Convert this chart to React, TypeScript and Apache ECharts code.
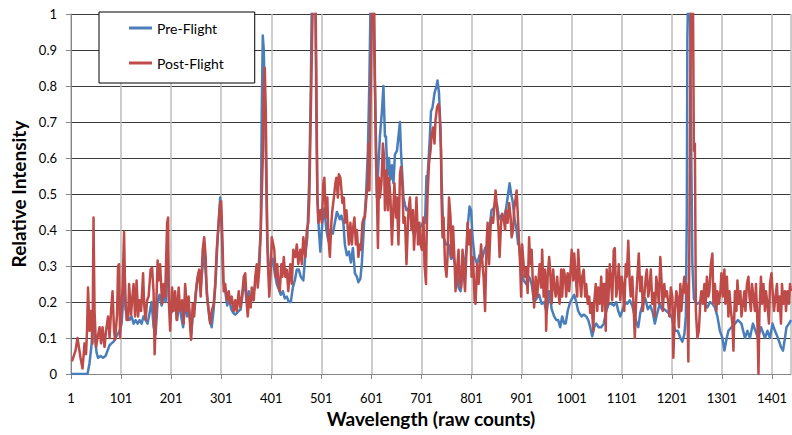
import React, { useEffect, useRef } from "react";
import * as echarts from "echarts";

// [raw count, relative intensity]
const preFlight: [number, number][] = [
  [1, 0], [20, 0], [34, 0], [38, 0.03], [42, 0.08], [46, 0.19], [49, 0.1], [52, 0.06], [55, 0.045], [60, 0.05],
  [65, 0.045], [70, 0.05], [74, 0.065], [78, 0.08], [82, 0.085], [86, 0.09], [90, 0.1], [94, 0.11], [98, 0.12],
  [102, 0.14], [106, 0.22], [108, 0.3], [110, 0.18], [114, 0.16], [118, 0.15], [122, 0.16], [126, 0.14], [130, 0.15],
  [134, 0.14], [138, 0.15], [142, 0.14], [146, 0.16], [150, 0.15], [154, 0.14], [158, 0.17], [162, 0.2], [166, 0.13],
  [170, 0.11], [174, 0.2], [178, 0.22],
  [182, 0.19], [186, 0.22], [190, 0.2], [194, 0.36], [197, 0.2], [201, 0.17], [205, 0.18], [209, 0.21], [213, 0.15],
  [217, 0.2], [221, 0.16], [225, 0.13], [229, 0.2], [233, 0.16], [237, 0.18], [241, 0.11], [245, 0.17], [249, 0.2],
  [253, 0.26], [256, 0.28], [260, 0.24], [264, 0.3], [267, 0.34], [270, 0.28], [274, 0.2], [278, 0.15], [282, 0.13],
  [286, 0.18], [290, 0.26], [294, 0.38], [297, 0.45], [299, 0.49], [302, 0.4], [305, 0.26], [309, 0.23], [313, 0.19],
  [317, 0.21], [321, 0.18], [325, 0.17], [329, 0.165], [333, 0.17], [336, 0.175], [340, 0.18], [344, 0.23], [348, 0.25],
  [352, 0.2], [356, 0.23], [360, 0.2],
  [364, 0.22], [368, 0.24], [372, 0.28], [376, 0.3], [380, 0.4], [382, 0.73], [384, 0.94], [386, 0.9], [388, 0.78],
  [390, 0.62], [393, 0.36], [396, 0.305], [400, 0.3], [404, 0.32], [408, 0.28], [412, 0.25], [416, 0.235], [420, 0.22],
  [424, 0.23], [428, 0.21], [432, 0.215], [436, 0.2], [440, 0.2], [444, 0.24], [448, 0.26], [452, 0.29], [456, 0.29],
  [460, 0.27], [465, 0.26], [469, 0.33], [473, 0.38], [477, 0.55], [480, 0.8], [482, 1.05], [486, 1.1], [489, 1.05],
  [491, 0.72], [493, 0.5], [496, 0.4], [499, 0.34], [503, 0.42], [507, 0.46], [511, 0.4], [515, 0.37], [519, 0.4],
  [524, 0.39], [528, 0.42], [532, 0.45], [535, 0.44], [538, 0.43],
  [541, 0.44], [545, 0.42], [548, 0.36], [552, 0.33], [556, 0.34], [560, 0.31], [564, 0.35], [568, 0.28], [572, 0.27],
  [575, 0.255], [579, 0.265], [582, 0.31], [586, 0.41], [590, 0.49], [594, 0.62], [597, 0.82], [600, 1.1], [604, 1.1],
  [607, 0.87], [610, 0.66], [612, 0.49], [615, 0.58], [618, 0.66], [622, 0.73], [625, 0.8], [628, 0.66], [630, 0.66],
  [633, 0.55], [636, 0.6], [639, 0.54], [642, 0.58], [645, 0.53], [648, 0.61], [652, 0.62], [655, 0.66], [658, 0.7],
  [660, 0.62], [663, 0.545], [665, 0.49], [668, 0.47], [671, 0.455], [675, 0.46], [680, 0.43], [685, 0.39], [690, 0.4],
  [695, 0.4], [700, 0.41], [704, 0.42], [708, 0.42], [711, 0.55], [713, 0.545],
  [717, 0.64], [720, 0.73], [723, 0.74], [727, 0.78], [731, 0.8], [733, 0.815], [736, 0.78], [739, 0.68], [741, 0.545],
  [745, 0.38], [750, 0.36], [755, 0.36], [760, 0.32], [764, 0.33], [768, 0.305], [772, 0.28], [775, 0.24], [779, 0.23],
  [783, 0.28], [787, 0.31], [791, 0.345], [794, 0.42], [797, 0.465], [800, 0.455], [803, 0.38], [807, 0.325],
  [812, 0.305], [817, 0.33], [823, 0.325], [828, 0.35], [834, 0.36], [838, 0.42], [841, 0.455], [845, 0.46], [849, 0.48],
  [852, 0.47], [856, 0.43], [860, 0.44], [865, 0.43], [870, 0.46], [874, 0.5], [877, 0.53], [880, 0.5], [883, 0.48],
  [887, 0.43], [891, 0.4], [894, 0.36],
  [895, 0.37], [900, 0.3], [905, 0.26], [910, 0.25], [916, 0.27], [921, 0.25], [926, 0.2], [931, 0.21], [936, 0.22],
  [941, 0.195], [946, 0.2], [951, 0.17], [956, 0.23], [961, 0.18], [966, 0.16], [970, 0.15], [974, 0.15], [978, 0.13],
  [982, 0.16], [986, 0.14], [989, 0.14], [993, 0.175], [998, 0.2], [1002, 0.21], [1006, 0.22], [1010, 0.2],
  [1014, 0.175], [1018, 0.165], [1021, 0.16], [1025, 0.165], [1030, 0.16], [1034, 0.15], [1038, 0.13], [1042, 0.105],
  [1046, 0.13], [1050, 0.14], [1055, 0.13], [1060, 0.13], [1065, 0.14], [1070, 0.175], [1075, 0.195],
  [1080, 0.195], [1085, 0.19], [1090, 0.2], [1094, 0.175], [1098, 0.16], [1103, 0.18], [1108, 0.2], [1112, 0.195],
  [1117, 0.205], [1122, 0.19], [1127, 0.16], [1131, 0.14], [1134, 0.13], [1138, 0.17], [1143, 0.195], [1148, 0.21],
  [1153, 0.18], [1158, 0.19], [1163, 0.17], [1167, 0.14], [1172, 0.17], [1177, 0.195], [1181, 0.18], [1186, 0.18],
  [1190, 0.175], [1194, 0.17], [1200, 0.16], [1204, 0.14], [1208, 0.12], [1213, 0.12], [1218, 0.1], [1222, 0.09],
  [1226, 0.11], [1229, 0.16], [1231, 0.45], [1232, 0.93], [1234, 1.1], [1237, 1.1], [1239, 0.73], [1242, 0.305],
  [1245, 0.21], [1248, 0.2],
  [1252, 0.195], [1257, 0.2], [1262, 0.21], [1267, 0.195], [1272, 0.185], [1277, 0.2], [1282, 0.195], [1287, 0.185],
  [1292, 0.16], [1297, 0.12], [1302, 0.1], [1306, 0.065], [1310, 0.095], [1314, 0.12], [1320, 0.13], [1327, 0.14],
  [1333, 0.15], [1340, 0.14], [1347, 0.1], [1352, 0.12], [1357, 0.1], [1363, 0.14], [1368, 0.12], [1373, 0.1],
  [1379, 0.13], [1387, 0.1], [1392, 0.12], [1397, 0.1], [1402, 0.14], [1407, 0.12], [1413, 0.1], [1419, 0.075],
  [1423, 0.065], [1427, 0.1], [1430, 0.13], [1435, 0.14], [1439, 0.15],
];

const postFlight: [number, number][] = [
  [3, 0.035], [10, 0.065], [14, 0.1], [20, 0.045], [24, 0.015], [28, 0.085], [31, 0.055], [33, 0.12], [35, 0.24],
  [38, 0.12], [41, 0.175], [44, 0.085], [46, 0.435], [48, 0.175], [51, 0.075], [54, 0.1], [58, 0.13], [61, 0.085],
  [64, 0.13], [68, 0.075], [71, 0.12], [75, 0.16], [78, 0.1], [81, 0.175], [84, 0.23], [87, 0.12], [89, 0.095],
  [93, 0.165], [95, 0.3], [97, 0.305], [99, 0.1], [101, 0.16], [104, 0.24], [107, 0.395], [109, 0.225], [112, 0.15],
  [115, 0.15], [117, 0.25], [121, 0.165], [123, 0.205], [126, 0.25], [129, 0.16], [132, 0.26], [135, 0.16],
  [138, 0.205], [141, 0.175], [145, 0.28], [147, 0.195], [150, 0.15], [153, 0.205], [156, 0.215], [160, 0.29],
  [163, 0.295], [166, 0.225], [168, 0.055], [171, 0.175], [174, 0.315], [176, 0.26], [179, 0.305],
  [183, 0.195], [186, 0.25], [189, 0.215], [193, 0.42], [195, 0.435], [196, 0.215], [199, 0.12], [203, 0.24],
  [206, 0.175], [209, 0.23], [212, 0.15], [216, 0.24], [219, 0.175], [223, 0.205], [226, 0.14], [229, 0.25],
  [233, 0.175], [236, 0.215], [239, 0.13], [241, 0.095], [244, 0.195], [247, 0.16], [250, 0.225], [254, 0.27],
  [257, 0.29], [260, 0.215], [264, 0.345], [267, 0.38], [270, 0.325], [272, 0.225], [276, 0.175], [279, 0.14],
  [282, 0.175], [286, 0.195], [289, 0.25], [292, 0.345], [296, 0.42], [299, 0.475], [301, 0.48], [304, 0.345],
  [306, 0.23], [309, 0.25], [312, 0.205], [316, 0.23], [319, 0.195], [322, 0.215], [326, 0.175], [329, 0.205],
  [332, 0.175], [336, 0.23], [339, 0.185], [342, 0.205], [346, 0.27], [349, 0.28],
  [352, 0.195], [354, 0.16], [357, 0.215], [360, 0.185], [362, 0.24], [366, 0.205], [369, 0.27], [372, 0.305],
  [374, 0.24], [377, 0.29], [380, 0.4], [384, 0.595], [386, 0.78], [388, 0.85], [390, 0.73], [392, 0.49],
  [394, 0.315], [397, 0.215], [400, 0.29], [402, 0.38], [405, 0.36], [407, 0.345], [410, 0.27], [413, 0.305],
  [415, 0.25], [418, 0.23], [421, 0.305], [423, 0.27], [426, 0.325], [429, 0.27], [432, 0.29], [435, 0.23],
  [439, 0.305], [442, 0.25], [445, 0.345], [449, 0.325], [452, 0.36], [455, 0.305], [459, 0.345], [462, 0.305],
  [465, 0.38], [469, 0.325], [472, 0.4], [475, 0.42], [477, 0.49], [480, 0.73], [483, 0.965], [485, 1.1], [489, 1.1],
  [491, 0.825], [493, 0.49], [495, 0.42], [499, 0.455], [502, 0.42], [505, 0.53], [507, 0.545], [510, 0.435],
  [513, 0.49], [515, 0.38], [518, 0.325], [521, 0.42], [523, 0.455], [526, 0.49], [529, 0.53], [531, 0.545],
  [534, 0.49], [536, 0.555], [539, 0.545],
  [540, 0.53], [543, 0.475], [546, 0.49], [548, 0.42], [551, 0.455], [554, 0.4], [556, 0.36], [559, 0.42], [562, 0.36],
  [564, 0.4], [567, 0.435], [570, 0.36], [572, 0.4], [575, 0.325], [578, 0.36], [580, 0.345], [583, 0.42],
  [586, 0.435], [588, 0.435], [591, 0.49], [594, 0.53], [595, 0.64], [597, 0.51], [599, 0.73], [601, 0.92],
  [603, 1.1], [606, 1.1], [608, 0.825], [610, 0.6], [612, 0.5], [614, 0.35], [616, 0.545], [618, 0.49], [621, 0.53],
  [624, 0.64], [626, 0.605], [628, 0.455], [631, 0.565], [634, 0.455], [636, 0.545], [639, 0.49], [642, 0.36],
  [644, 0.435], [647, 0.53], [650, 0.435], [652, 0.49], [655, 0.36], [658, 0.555], [660, 0.575], [663, 0.52],
  [665, 0.42], [668, 0.435], [671, 0.305], [673, 0.38], [675, 0.455], [678, 0.49], [681, 0.4], [684, 0.455],
  [686, 0.345], [689, 0.42], [691, 0.49], [694, 0.36], [697, 0.42], [699, 0.36], [702, 0.345], [705, 0.435],
  [707, 0.305], [710, 0.25],
  [711, 0.36], [713, 0.49], [716, 0.585], [719, 0.62], [721, 0.66], [724, 0.685], [727, 0.64], [729, 0.705],
  [732, 0.74], [735, 0.75], [737, 0.73], [740, 0.62], [741, 0.49], [743, 0.38], [745, 0.435], [748, 0.305],
  [751, 0.27], [753, 0.325], [756, 0.49], [759, 0.435], [761, 0.325], [764, 0.41], [767, 0.315], [769, 0.23],
  [772, 0.29], [775, 0.345], [777, 0.26], [780, 0.24], [783, 0.345], [785, 0.29], [788, 0.23], [791, 0.345],
  [793, 0.42], [796, 0.36], [799, 0.4], [801, 0.27], [804, 0.325], [807, 0.205], [809, 0.195], [812, 0.305],
  [815, 0.25], [817, 0.29], [820, 0.36], [823, 0.305], [825, 0.27], [828, 0.175], [831, 0.36], [833, 0.42],
  [836, 0.305], [839, 0.41], [841, 0.435], [844, 0.42], [847, 0.475], [849, 0.51], [852, 0.455], [855, 0.4],
  [857, 0.325], [860, 0.42], [862, 0.445], [865, 0.435], [868, 0.4], [870, 0.455], [873, 0.42], [876, 0.475],
  [879, 0.435], [881, 0.38], [884, 0.4], [886, 0.455],
  [891, 0.51], [893, 0.455], [896, 0.36], [898, 0.305], [900, 0.215], [902, 0.36], [905, 0.305], [908, 0.27],
  [910, 0.295], [913, 0.225], [916, 0.38], [918, 0.305], [921, 0.345], [924, 0.23], [926, 0.185], [929, 0.27],
  [932, 0.215], [934, 0.25], [937, 0.305], [940, 0.24], [942, 0.345], [945, 0.215], [948, 0.29], [950, 0.12],
  [953, 0.27], [956, 0.325], [958, 0.29], [961, 0.195], [964, 0.29], [966, 0.25], [969, 0.215], [972, 0.27],
  [974, 0.23], [977, 0.195], [980, 0.29], [982, 0.215], [985, 0.29], [988, 0.27], [990, 0.215], [993, 0.28],
  [996, 0.23], [998, 0.27], [1001, 0.345], [1004, 0.26], [1006, 0.335], [1009, 0.27], [1012, 0.215], [1014, 0.345],
  [1017, 0.27], [1020, 0.215], [1022, 0.27], [1025, 0.29], [1028, 0.215], [1030, 0.25], [1033, 0.195], [1036, 0.215],
  [1038, 0.17], [1041, 0.195], [1044, 0.12], [1046, 0.2], [1049, 0.25], [1052, 0.175], [1054, 0.24], [1057, 0.195],
  [1060, 0.27], [1062, 0.175], [1065, 0.25],
  [1067, 0.25], [1069, 0.12], [1071, 0.29], [1074, 0.195], [1077, 0.305], [1079, 0.27], [1082, 0.205], [1085, 0.345],
  [1087, 0.35], [1090, 0.215], [1093, 0.25], [1095, 0.305], [1098, 0.205], [1101, 0.27], [1103, 0.25], [1106, 0.175],
  [1109, 0.305], [1111, 0.27], [1114, 0.37], [1117, 0.25], [1119, 0.215], [1122, 0.27], [1125, 0.175], [1127, 0.1],
  [1130, 0.215], [1133, 0.29], [1135, 0.335], [1138, 0.23], [1141, 0.27], [1143, 0.175], [1146, 0.215], [1149, 0.27],
  [1151, 0.29], [1154, 0.215], [1157, 0.25], [1159, 0.29], [1162, 0.195], [1165, 0.225], [1167, 0.16], [1170, 0.27],
  [1173, 0.23], [1175, 0.195], [1178, 0.325], [1180, 0.27], [1183, 0.175], [1186, 0.25], [1188, 0.215], [1191, 0.23],
  [1194, 0.195], [1196, 0.16], [1199, 0.24], [1202, 0.215], [1204, 0.045], [1207, 0.175], [1210, 0.23], [1212, 0.215],
  [1215, 0.13], [1218, 0.25], [1220, 0.175], [1223, 0.23], [1226, 0.27], [1228, 0.225], [1230, 0.25], [1232, 0.195],
  [1234, 0.035], [1236, 0.36], [1238, 0.825], [1240, 1.1], [1243, 1.1], [1245, 0.62], [1247, 0.64], [1249, 0.175],
  [1252, 0.1], [1255, 0.12], [1258, 0.205], [1260, 0.23], [1263, 0.195], [1266, 0.25], [1268, 0.175], [1271, 0.27],
  [1274, 0.215], [1276, 0.23], [1279, 0.305], [1282, 0.335], [1284, 0.195], [1287, 0.25], [1290, 0.175], [1292, 0.23],
  [1295, 0.195], [1298, 0.23], [1300, 0.28], [1303, 0.215], [1306, 0.29], [1308, 0.195], [1311, 0.27], [1314, 0.16],
  [1316, 0.23], [1319, 0.175], [1322, 0.14], [1324, 0.065], [1327, 0.23], [1330, 0.175], [1332, 0.26], [1335, 0.195],
  [1338, 0.23], [1340, 0.16], [1343, 0.195], [1346, 0.23], [1348, 0.175], [1351, 0.25], [1354, 0.27], [1356, 0.215],
  [1359, 0.175], [1361, 0.25], [1364, 0.215], [1367, 0.175], [1369, 0.25], [1372, 0.14], [1374, 0.0], [1376, 0.175],
  [1379, 0.27], [1381, 0.195], [1384, 0.25], [1387, 0.175], [1389, 0.23], [1392, 0.195], [1395, 0.14], [1397, 0.25],
  [1400, 0.28], [1403, 0.215], [1405, 0.175], [1408, 0.215], [1411, 0.25], [1413, 0.175], [1416, 0.215], [1419, 0.14],
  [1421, 0.25], [1424, 0.195], [1427, 0.23], [1429, 0.175], [1432, 0.23], [1435, 0.195], [1437, 0.25], [1439, 0.23],
];

const seriesNames = ["Pre-Flight", "Post-Flight"];
const xTitle = "Wavelength (raw counts)";
const yTitle = "Relative Intensity";
const firstCount = 1;
const lastCount = 1439;
const countStep = 100;

const FONT = "Lato, 'Open Sans', sans-serif";

export default function App() {
  const ref = useRef<HTMLDivElement>(null);
  useEffect(() => {
    if (!ref.current) return;
    const chart = echarts.init(ref.current, undefined, { renderer: "svg" });
    const toOffset = (d: [number, number][]) => d.map(([c, v]) => [c - firstCount, v]);
    chart.setOption({
      animation: false,
      backgroundColor: "#fff",
      grid: { left: 71, right: 1, top: 14, bottom: 61, containLabel: false },
      legend: {
        orient: "vertical",
        left: 99,
        top: 12,
        padding: [9, 31, 13, 30],
        itemGap: 21,
        itemWidth: 23,
        itemHeight: 3,
        icon: "rect",
        backgroundColor: "#fff",
        borderColor: "#000",
        borderWidth: 1,
        borderRadius: 0,
        textStyle: { fontFamily: FONT, fontSize: 14, color: "#000" },
        data: seriesNames,
      },
      xAxis: {
        type: "value",
        min: 0,
        max: lastCount - firstCount,
        interval: countStep,
        name: xTitle,
        nameLocation: "middle",
        nameGap: 35,
        nameTextStyle: { fontFamily: FONT, fontSize: 19, fontWeight: "bold", color: "#000" },
        axisLine: { show: true, lineStyle: { color: "#868686", width: 1 } },
        axisTick: { show: true, length: 5, lineStyle: { color: "#868686" } },
        axisLabel: {
          margin: 17,
          fontFamily: FONT,
          fontSize: 13,
          color: "#000",
          showMaxLabel: false,
          formatter: (v: number) => String(v + firstCount),
        },
        splitLine: { show: true, lineStyle: { color: "#BDBDBD", width: 1.5 } },
      },
      yAxis: {
        type: "value",
        min: 0,
        max: 1,
        interval: 0.1,
        name: yTitle,
        nameLocation: "middle",
        nameGap: 42,
        nameTextStyle: { fontFamily: FONT, fontSize: 19, fontWeight: "bold", color: "#000" },
        axisLine: { show: true, lineStyle: { color: "#868686", width: 1 } },
        axisTick: { show: true, length: 5, lineStyle: { color: "#868686" } },
        axisLabel: { margin: 14, fontFamily: FONT, fontSize: 13, color: "#000" },
        splitLine: { show: true, lineStyle: { color: "#3a3a3a", width: 1 } },
      },
      series: [
        {
          name: seriesNames[0],
          type: "line",
          data: toOffset(preFlight),
          symbol: "none",
          clip: true,
          lineStyle: { color: "#4A7EBB", width: 2.5, join: "round" },
          itemStyle: { color: "#4A7EBB" },
        },
        {
          name: seriesNames[1],
          type: "line",
          data: toOffset(postFlight),
          symbol: "none",
          clip: true,
          lineStyle: { color: "#BE4B48", width: 2.5, join: "round" },
          itemStyle: { color: "#BE4B48" },
        },
      ],
    });
    return () => chart.dispose();
  }, []);
  return (
    <div style={{ position: "fixed", left: 0, top: 0, width: 792, height: 435, background: "#fff" }}>
      <div ref={ref} style={{ width: 792, height: 435 }} />
    </div>
  );
}
